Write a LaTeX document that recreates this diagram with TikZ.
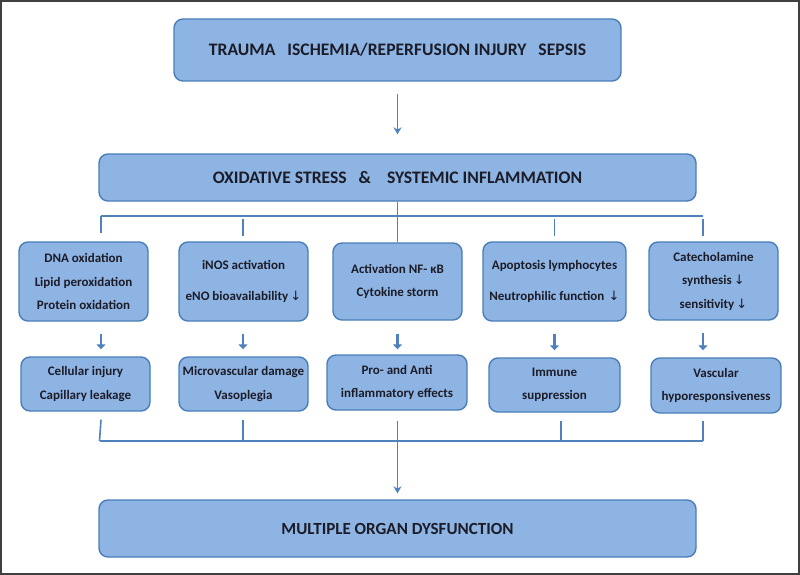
\documentclass[tikz,border=0pt]{standalone}
\usepackage{fontspec}
\setmainfont{Carlito}
\newfontfamily\arrowfont{DejaVu Sans}
\usetikzlibrary{arrows.meta}
\definecolor{boxfill}{HTML}{8EB4E3}
\definecolor{boxline}{HTML}{4A7DB9}
\definecolor{linkblue}{HTML}{4F81BD}
\definecolor{txt}{HTML}{1C1C28}
\newcommand{\dn}{{\arrowfont\mdseries\,\char"2193}}
\tikzset{
	box/.style={draw=boxline,fill=boxfill,line width=1.4pt,rounded corners=9pt,inner sep=0pt,
		align=center,text=txt,font=\bfseries\fontsize{13}{23.5}\selectfont},
	bigbox/.style={box,font=\bfseries\fontsize{17.6}{20}\selectfont},
	link/.style={draw=linkblue,line width=1.6pt},
	thin arrow/.style={link,-{Stealth[length=7pt,width=8pt]}},
	thick arrow/.style={link,line width=2.6pt,-{Triangle[length=5pt,width=9pt]}}
}
\begin{document}
\begin{tikzpicture}[x=1pt,y=-1pt]
	\useasboundingbox (0,0) rectangle (800,575);
	\draw[line width=2pt,black!75] (1,1) rectangle (799,574);
	
	\node[bigbox,minimum width=447,minimum height=62] (trauma) at (397.5,50) {TRAUMA\ \ \ ISCHEMIA/REPERFUSION INJURY\ \ \ SEPSIS};
	\node[bigbox,minimum width=597,minimum height=47] (stress) at (397.5,177.5) {OXIDATIVE STRESS\ \ \ \&\ \ \ \ SYSTEMIC INFLAMMATION};
	
	\node[box,minimum width=129,minimum height=79] (ox) at (83.5,281.5) {DNA oxidation\\Lipid peroxidation\\Protein oxidation};
	\node[box,minimum width=129,minimum height=79,font=\bfseries\fontsize{13}{31}\selectfont] (inos) at (243.5,281.5) {iNOS activation\\eNO bioavailability\dn};
	\node[box,minimum width=129,minimum height=77] (nfkb) at (397.5,281.5) {Activation NF- κB\\Cytokine storm};
	\node[box,minimum width=143,minimum height=79,font=\bfseries\fontsize{13}{31}\selectfont] (apop) at (554.5,281.5) {Apoptosis lymphocytes\\Neutrophilic function\,\dn};
	\node[box,minimum width=129,minimum height=78] (cate) at (713.5,281) {Catecholamine\\synthesis\dn\\sensitivity\dn};
	
	\node[box,minimum width=129,minimum height=54] (cell) at (85.5,384) {Cellular injury\\Capillary leakage};
	\node[box,minimum width=129,minimum height=54] (micro) at (243.5,384) {Microvascular damage\\Vasoplegia};
	\node[box,minimum width=140,minimum height=55] (proanti) at (397,382.5) {Pro- and Anti\\inflammatory effects};
	\node[box,minimum width=131,minimum height=54] (immune) at (554.5,385) {Immune\\suppression};
	\node[box,minimum width=130,minimum height=55] (vasc) at (716,385.5) {Vascular\\hyporesponsiveness};
	
	\node[bigbox,minimum width=597,minimum height=57,font=\bfseries\fontsize{17}{18}\selectfont] (mod) at (397.5,528.5) {MULTIPLE ORGAN DYSFUNCTION};
	
	\coordinate (c1) at (101,0);
	\coordinate (c2) at (243,0);
	\coordinate (c3) at (397.5,0);
	\coordinate (c4) at (554.5,0);
	\coordinate (c5) at (703,0);
	\coordinate (c4b) at (561,0);
	\coordinate (topbar) at (0,216);
	\coordinate (botbar) at (0,441);
	
	\draw[thin arrow,shorten <=12pt,shorten >=19pt] (trauma.south -| c3) -- (stress.north -| c3);
	\draw[link] (stress.south -| c3) -- (nfkb.north -| c3);
	\draw[link] (topbar -| c1) -- (topbar -| c5);
	\draw[link] (topbar -| c1) -- ([yshift=8pt]ox.north -| c1);
	\draw[link] ([yshift=-3pt]topbar -| c2) -- ([yshift=5pt]inos.north -| c2);
	\draw[link] ([yshift=-3pt]topbar -| c4) -- ([yshift=5pt]apop.north -| c4);
	\draw[link] ([yshift=-3pt]topbar -| c5) -- ([yshift=5pt]cate.north -| c5);
	
	\draw[thick arrow,shorten <=12pt,shorten >=7pt] (ox.south -| c1) -- (cell.north -| c1);
	\draw[thick arrow,shorten <=12pt,shorten >=7pt] (inos.south -| c2) -- (micro.north -| c2);
	\draw[thick arrow,shorten <=13pt,shorten >=5pt] (nfkb.south -| c3) -- (proanti.north -| c3);
	\draw[thick arrow,shorten <=12pt,shorten >=7pt] (apop.south -| c4) -- (immune.north -| c4);
	\draw[thick arrow,shorten <=12pt,shorten >=7pt] (cate.south -| c5) -- (vasc.north -| c5);
	
	\draw[link] ([xshift=-1.5pt]botbar -| c1) -- (botbar -| c5);
	\draw[link] ([yshift=-8pt]cell.south -| c1) -- ([xshift=-1.5pt]botbar -| c1);
	\draw[link] ([yshift=-8pt]micro.south -| c2) -- (botbar -| c2);
	\draw[link] ([yshift=-8pt]immune.south -| c4b) -- (botbar -| c4b);
	\draw[link] ([yshift=-7pt]vasc.south -| c5) -- (botbar -| c5);
	\draw[thin arrow,shorten <=10pt,shorten >=6pt] (proanti.south -| c3) -- (mod.north -| c3);
\end{tikzpicture}
\end{document}
